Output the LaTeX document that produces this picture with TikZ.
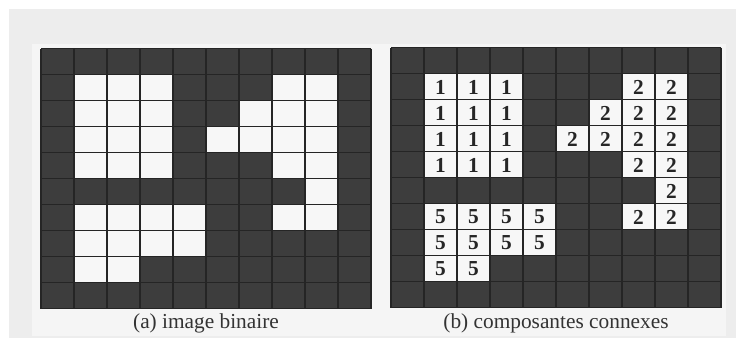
\documentclass[tikz,border=0pt]{standalone}
\usepackage{fontspec}
\setmainfont{Liberation Serif}
\definecolor{bgout}{HTML}{EDEDED}
\definecolor{bgin}{HTML}{F5F5F5}
\definecolor{cellc}{HTML}{3D3D3D}
\definecolor{paper}{HTML}{F7F7F7}
\definecolor{gline}{HTML}{252525}
\tikzset{
  gridline/.style={draw=gline, line width=0.8pt},
  digit/.style={font=\fontsize{16}{18}\selectfont\bfseries, text=black!85, inner sep=0pt},
  captxt/.style={font=\fontsize{16}{18}\selectfont, text=black!80, anchor=base, inner sep=0pt}
}
\begin{document}
\begin{tikzpicture}[x=0.75pt,y=-0.75pt]
\useasboundingbox (0,0) rectangle (743,355);
\fill[white] (0,0) rectangle (743,355);
\fill[bgout] (9,9) rectangle (736,338);
\fill[bgin] (32,44) rectangle (726,336);
% left grid
\begin{scope}[shift={(41,48.5)}]
  \fill[cellc] (0,0) rectangle (330,260);
  \foreach \c/\r in {1/1,2/1,3/1,7/1,8/1,
                     1/2,2/2,3/2,6/2,7/2,8/2,
                     1/3,2/3,3/3,5/3,6/3,7/3,8/3,
                     1/4,2/4,3/4,7/4,8/4,
                     8/5,
                     1/6,2/6,3/6,4/6,7/6,8/6,
                     1/7,2/7,3/7,4/7,
                     1/8,2/8}
    \fill[paper] (\c*33,\r*26) rectangle ++(33,26);
  \foreach \i in {0,...,10} \draw[gridline] (\i*33,0) -- (\i*33,260);
  \foreach \j in {0,...,10} \draw[gridline] (0,\j*26) -- (330,\j*26);
\end{scope}
% right grid
\begin{scope}[shift={(391,47.5)}]
  \fill[cellc] (0,0) rectangle (330,260);
  \foreach \c/\r/\l in {1/1/1,2/1/1,3/1/1,7/1/2,8/1/2,
                     1/2/1,2/2/1,3/2/1,6/2/2,7/2/2,8/2/2,
                     1/3/1,2/3/1,3/3/1,5/3/2,6/3/2,7/3/2,8/3/2,
                     1/4/1,2/4/1,3/4/1,7/4/2,8/4/2,
                     8/5/2,
                     1/6/5,2/6/5,3/6/5,4/6/5,7/6/2,8/6/2,
                     1/7/5,2/7/5,3/7/5,4/7/5,
                     1/8/5,2/8/5}
  {
    \fill[paper] (\c*33,\r*26) rectangle ++(33,26);
    \node[digit] (d\c-\r) at (\c*33+16.5,\r*26+13.5) {\l};
  }
  \foreach \i in {0,...,10} \draw[gridline] (\i*33,0) -- (\i*33,260);
  \foreach \j in {0,...,10} \draw[gridline] (0,\j*26) -- (330,\j*26);
\end{scope}
\node[captxt] (capa) at (206,328) {(a) image binaire};
\node[captxt] (capb) at (556,328) {(b) composantes connexes};
\end{tikzpicture}
\end{document}
